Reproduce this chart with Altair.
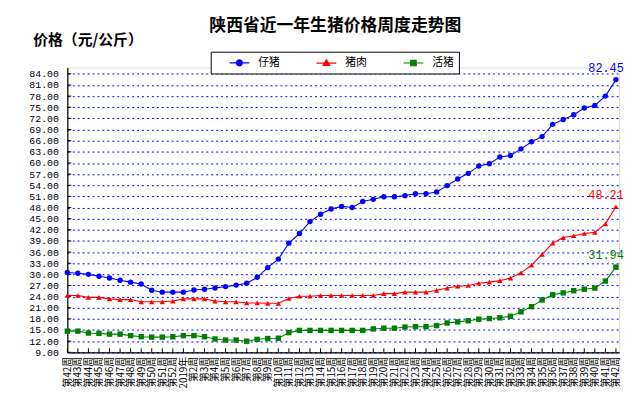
import json
import altair as alt
import pandas as pd

week_labels = [f"第{w}周" for w in range(42, 53)] + ["2019年"] + [f"第{w}周" for w in range(2, 43)]

series_names = ["仔猪", "猪肉", "活猪"]
series_colors = ["#0000FF", "#FF0000", "#008000"]
series_shapes = ["circle", "triangle-up", "square"]
legend_paths = [
    "M-2,0H2M0.6,0A0.6,0.6,0,1,1,-0.6,0A0.6,0.6,0,1,1,0.6,0Z",
    "M-2,0H2M0,-0.7L0.65,0.45L-0.65,0.45Z",
    "M-2,0H2M-0.55,-0.55H0.55V0.55H-0.55Z",
]

piglet = [30.5, 30.3, 30.0, 29.5, 29.0, 28.4, 27.9, 27.4, 25.7, 25.2, 25.2, 25.2, 25.8, 26.0,
          26.3, 26.7, 27.1, 27.6, 29.2, 31.8, 34.1, 38.4, 41.0, 44.2, 46.2, 47.6, 48.3, 48.0,
          49.6, 50.2, 50.9, 50.9, 51.2, 51.7, 51.7, 52.2, 53.9, 55.7, 57.2, 59.2, 59.8, 61.6,
          62.0, 63.8, 65.7, 67.1, 70.4, 71.7, 73.0, 74.8, 75.5, 78.0, 82.45]
pork = [24.3, 24.3, 23.8, 23.8, 23.4, 23.2, 23.2, 22.6, 22.6, 22.6, 22.8, 23.4, 23.4, 23.4,
        22.8, 22.6, 22.6, 22.3, 22.3, 22.2, 22.2, 23.5, 24.1, 24.1, 24.3, 24.3, 24.3, 24.3,
        24.3, 24.3, 24.8, 24.8, 25.2, 25.2, 25.2, 25.7, 26.3, 26.8, 27.0, 27.6, 27.9, 28.3,
        29.0, 30.4, 32.5, 35.4, 38.4, 39.9, 40.4, 41.0, 41.3, 43.6, 48.21]
hog = [14.7, 14.7, 14.2, 14.1, 13.9, 13.9, 13.5, 13.2, 13.1, 13.1, 13.2, 13.5, 13.5, 13.2,
       12.6, 12.3, 12.3, 12.0, 12.5, 12.7, 12.8, 14.3, 14.9, 14.9, 14.9, 14.9, 14.9, 14.9,
       14.9, 15.3, 15.5, 15.5, 15.8, 15.9, 15.9, 16.2, 16.9, 17.2, 17.5, 17.9, 18.1, 18.3,
       18.7, 19.9, 21.3, 23.1, 24.5, 25.0, 25.6, 26.0, 26.3, 28.2, 31.94]

y_ticks = [9 + 3 * k for k in range(26)]

rows = []
for name, vals in zip(series_names, [piglet, pork, hog]):
    for i, v in enumerate(vals):
        rows.append({"idx": i, "series": name, "value": v})
df = pd.DataFrame(rows)
last_df = df[df["idx"] == len(week_labels) - 1]
tick_df = pd.DataFrame({"idx": list(range(len(week_labels)))})
ytick_df = pd.DataFrame({"v": y_ticks})

W, H = 558, 288
label_expr = json.dumps(week_labels, ensure_ascii=False) + "[datum.value]"

x_scale = alt.Scale(domain=[0, 52.3], nice=False, zero=False)
y_scale = alt.Scale(domain=[9, 85.7], nice=False, zero=False)
x_axis = alt.Axis(values=list(range(len(week_labels))), tickCount=100, labelExpr=label_expr,
                  labelAngle=270, labelFont="Noto Sans CJK SC", labelFontSize=10,
                  labelColor="#000", labelOverlap=False, labelPadding=4, ticks=False,
                  grid=False, domainColor="#000", domainWidth=1.2, title=None,
                  labelBound=False, labelFlush=False)
y_axis = alt.Axis(values=y_ticks, tickCount=100, format=".2f", labelFont="Liberation Mono",
                  labelFontSize=10, labelColor="#000", labelPadding=9, ticks=False,
                  labelOverlap=False, grid=True, gridColor="#0000FF", gridDash=[2, 3],
                  gridWidth=1, domainColor="#000", domainWidth=1.2,
                  title="价格（元/公斤）", titleAngle=0, titleX=-35, titleY=-28,
                  titleAlign="left", titleBaseline="middle",
                  titleFont="Noto Sans CJK SC", titleFontSize=15,
                  titleFontWeight="bold", titleColor="#000")

color_scale = alt.Scale(domain=series_names, range=series_colors)

legend = alt.Legend(
    title=None, orient="none", legendX=145, legendY=-16, direction="horizontal",
    strokeColor="#000", fillColor="#fff", padding=5, symbolSize=100,
    symbolOffset=18, labelOffset=13, columnPadding=23, symbolStrokeWidth=1.2,
    symbolOpacity=1, labelFont="Noto Sans CJK SC", labelFontSize=11, labelColor="#000",
    labelExpr="datum.label == '活猪' ? datum.label + '\u3000' : datum.label",
    cornerRadius=0,
)

layers = []
# axes carrier
layers.append(alt.Chart(df).mark_line(opacity=0).encode(
    x=alt.X("idx:Q", scale=x_scale, axis=x_axis),
    y=alt.Y("value:Q", scale=y_scale, axis=y_axis),
    detail="series:N",
))
layers.append(alt.Chart(tick_df).mark_rule(color="#000", strokeWidth=1).encode(
    x="idx:Q", y=alt.value(H - 4), y2=alt.value(H)))
layers.append(alt.Chart(ytick_df).mark_rule(color="#000", strokeWidth=1).encode(
    y=alt.Y("v:Q", scale=y_scale, axis=y_axis), x=alt.value(0), x2=alt.value(4)))

for name, col, shp in zip(series_names, series_colors, series_shapes):
    sub = alt.Chart(df).transform_filter(alt.datum.series == name)
    layers.append(sub.mark_line(color=col, strokeWidth=1.1).encode(x="idx:Q", y="value:Q"))
    layers.append(sub.mark_point(filled=True, size=30, opacity=1, shape=shp, color=col)
                  .encode(x="idx:Q", y="value:Q"))
    layers.append(alt.Chart(last_df).transform_filter(alt.datum.series == name)
                  .mark_text(font="Liberation Mono", fontSize=12, align="right",
                             baseline="middle", dx=8, dy=-12, color=col)
                  .encode(x="idx:Q", y="value:Q", text=alt.Text("value:Q", format=".2f")))

layers.append(alt.Chart(last_df).mark_point(filled=True, size=100, opacity=0).encode(
    x="idx:Q", y="value:Q",
    color=alt.Color("series:N", scale=color_scale, legend=legend),
    stroke=alt.Stroke("series:N", scale=color_scale, legend=legend),
    shape=alt.Shape("series:N", scale=alt.Scale(domain=series_names, range=legend_paths), legend=legend),
))

chart = alt.layer(*layers).properties(
    width=W, height=H,
    title=alt.TitleParams("陕西省近一年生猪价格周度走势图", anchor="middle", frame="group",
                          font="Noto Sans CJK SC", fontSize=17, fontWeight="bold",
                          color="#000", offset=-2, dx=-8),
    autosize=alt.AutoSizeParams(type="none"),
    padding={"left": 60, "top": 58, "right": 10, "bottom": 44},
).configure_view(stroke=None).configure(background="#fff")

chart.save("out.html", embed_options={"renderer": "svg", "actions": False})
